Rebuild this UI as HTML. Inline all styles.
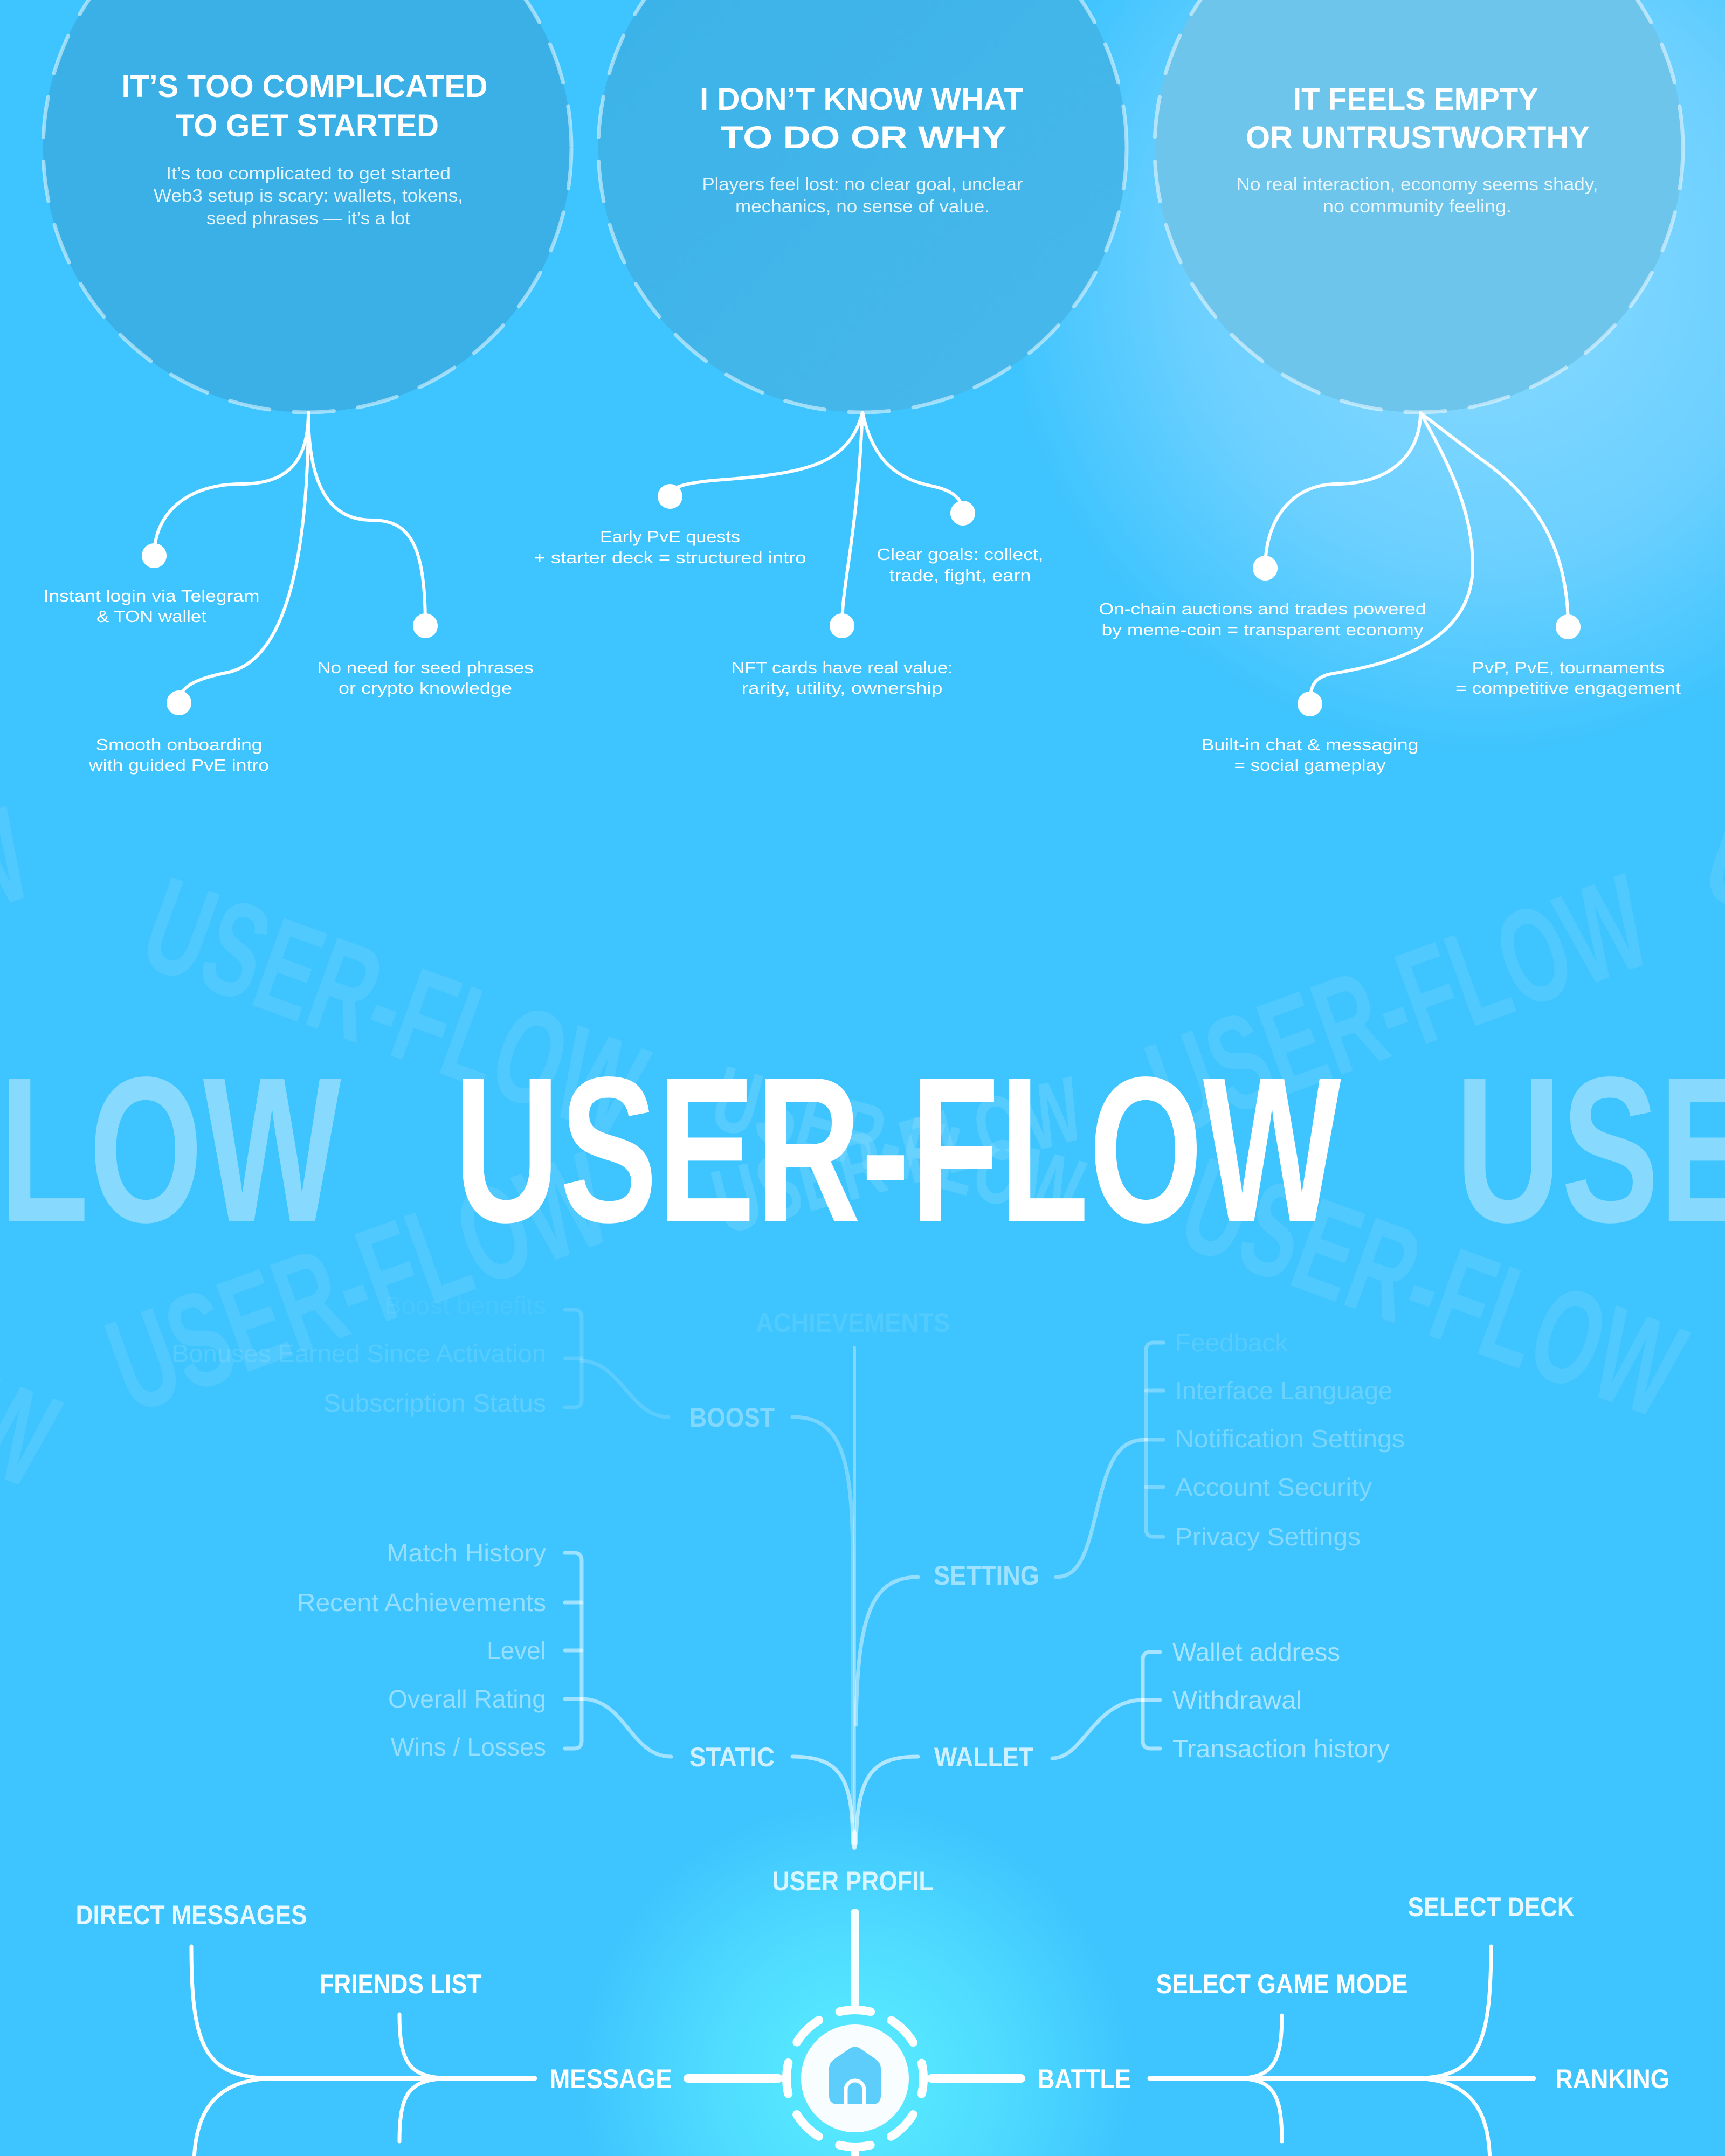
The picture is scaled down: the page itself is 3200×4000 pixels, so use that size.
<!DOCTYPE html>
<html><head><meta charset="utf-8"><style>
html,body{margin:0;padding:0;background:#3EC4FE;}
svg{display:block}
text{font-family:"Liberation Sans",sans-serif}
</style></head><body>
<svg width="3200" height="4000" viewBox="0 0 3200 4000" xmlns="http://www.w3.org/2000/svg">
<defs>
<radialGradient id="g3" cx="2750" cy="500" r="900" gradientUnits="userSpaceOnUse">
<stop offset="0" stop-color="#8ADAFF"/><stop offset="0.6" stop-color="#6CD0FF"/><stop offset="1" stop-color="#3EC4FE"/></radialGradient>
<radialGradient id="hub" cx="1586" cy="3856" r="520" gradientUnits="userSpaceOnUse">
<stop offset="0" stop-color="#5AEEFF"/><stop offset="0.5" stop-color="#4FDCFF"/><stop offset="1" stop-color="#3EC4FE"/></radialGradient>
<linearGradient id="c2" x1="0" y1="0" x2="1" y2="1"><stop offset="0" stop-color="#3AB2E8"/><stop offset="1" stop-color="#48B8EA"/></linearGradient>
</defs>
<rect width="3200" height="4000" fill="#3EC4FE"/>
<rect x="1900" y="0" width="1300" height="1500" fill="url(#g3)"/>
<rect x="1000" y="3330" width="1180" height="670" fill="url(#hub)"/>

<!-- circles -->
<g stroke="rgba(255,255,255,0.5)" stroke-width="7" stroke-dasharray="75 45" stroke-linecap="round">
<circle cx="570" cy="275" r="490" fill="#3AB0E6"/>
<circle cx="1600" cy="275" r="490" fill="url(#c2)"/>
<circle cx="2632" cy="275" r="490" fill="#6EC5EC"/>
</g>
<g fill="#fff" font-weight="bold" text-anchor="middle" font-size="58">
<text x="565" y="180" textLength="679" lengthAdjust="spacingAndGlyphs">IT’S TOO COMPLICATED</text>
<text x="570" y="253" textLength="488" lengthAdjust="spacingAndGlyphs">TO GET STARTED</text>
<text x="1598" y="204" textLength="600" lengthAdjust="spacingAndGlyphs">I DON’T KNOW WHAT</text>
<text x="1602" y="275" textLength="531" lengthAdjust="spacingAndGlyphs">TO DO OR WHY</text>
<text x="2626" y="204" textLength="455" lengthAdjust="spacingAndGlyphs">IT FEELS EMPTY</text>
<text x="2630" y="275" textLength="638" lengthAdjust="spacingAndGlyphs">OR UNTRUSTWORTHY</text>
</g>
<g fill="rgba(255,255,255,0.85)" text-anchor="middle" font-size="33">
<text x="572" y="333" textLength="528" lengthAdjust="spacingAndGlyphs">It’s too complicated to get started</text>
<text x="572" y="374" textLength="574" lengthAdjust="spacingAndGlyphs">Web3 setup is scary: wallets, tokens,</text>
<text x="572" y="416" textLength="378" lengthAdjust="spacingAndGlyphs">seed phrases — it’s a lot</text>
<text x="1600" y="353" textLength="595" lengthAdjust="spacingAndGlyphs">Players feel lost: no clear goal, unclear</text>
<text x="1600" y="394" textLength="472" lengthAdjust="spacingAndGlyphs">mechanics, no sense of value.</text>
<text x="2629" y="353" textLength="671" lengthAdjust="spacingAndGlyphs">No real interaction, economy seems shady,</text>
<text x="2629" y="394" textLength="350" lengthAdjust="spacingAndGlyphs">no community feeling.</text>
</g>

<!-- branch connectors -->
<g fill="none" stroke="#fff" stroke-width="6" stroke-linecap="round">
<path d="M572,765 C572,860 530,898 447,898 C350,898 286,950 286,1031"/>
<path d="M572,765 C572,1000 540,1225 420,1248 C360,1260 332,1275 332,1304"/>
<path d="M572,765 C572,900 610,965 690,965 C760,965 789,1010 789,1161"/>
<path d="M1600,765 C1575,860 1500,878 1340,890 C1262,896 1243,905 1243,921"/>
<path d="M1600,765 C1620,860 1670,890 1730,902 C1775,912 1786,930 1786,952"/>
<path d="M1600,765 C1590,1000 1562,1080 1562,1161"/>
<path d="M2635,766 C2635,850 2570,898 2480,898 C2400,898 2347,960 2347,1054"/>
<path d="M2635,766 L2745,850 C2860,930 2909,1030 2909,1163"/>
<path d="M2635,766 C2700,880 2732,960 2732,1050 C2732,1200 2560,1235 2470,1250 C2440,1256 2430,1270 2430,1306"/>
</g>
<g fill="#fff">
<circle cx="286" cy="1031" r="23"/><circle cx="332" cy="1304" r="23"/><circle cx="789" cy="1161" r="23"/>
<circle cx="1243" cy="921" r="23"/><circle cx="1786" cy="952" r="23"/><circle cx="1562" cy="1161" r="23"/>
<circle cx="2347" cy="1054" r="23"/><circle cx="2909" cy="1163" r="23"/><circle cx="2430" cy="1306" r="23"/>
</g>
<g fill="#fff" text-anchor="middle" font-size="31">
<text x="281" y="1116" textLength="401" lengthAdjust="spacingAndGlyphs">Instant login via Telegram</text>
<text x="281" y="1154" textLength="204" lengthAdjust="spacingAndGlyphs">&amp; TON wallet</text>
<text x="332" y="1392" textLength="309" lengthAdjust="spacingAndGlyphs">Smooth onboarding</text>
<text x="332" y="1430" textLength="334" lengthAdjust="spacingAndGlyphs">with guided PvE intro</text>
<text x="789" y="1249" textLength="401" lengthAdjust="spacingAndGlyphs">No need for seed phrases</text>
<text x="789" y="1287" textLength="322" lengthAdjust="spacingAndGlyphs">or crypto knowledge</text>
<text x="1243" y="1006" textLength="260" lengthAdjust="spacingAndGlyphs">Early PvE quests</text>
<text x="1243" y="1045" textLength="505" lengthAdjust="spacingAndGlyphs">+ starter deck = structured intro</text>
<text x="1781" y="1039" textLength="309" lengthAdjust="spacingAndGlyphs">Clear goals: collect,</text>
<text x="1781" y="1078" textLength="263" lengthAdjust="spacingAndGlyphs">trade, fight, earn</text>
<text x="1562" y="1249" textLength="411" lengthAdjust="spacingAndGlyphs">NFT cards have real value:</text>
<text x="1562" y="1287" textLength="373" lengthAdjust="spacingAndGlyphs">rarity, utility, ownership</text>
<text x="2342" y="1140" textLength="607" lengthAdjust="spacingAndGlyphs">On-chain auctions and trades powered</text>
<text x="2342" y="1179" textLength="597" lengthAdjust="spacingAndGlyphs">by meme-coin = transparent economy</text>
<text x="2909" y="1249" textLength="357" lengthAdjust="spacingAndGlyphs">PvP, PvE, tournaments</text>
<text x="2909" y="1287" textLength="418" lengthAdjust="spacingAndGlyphs">= competitive engagement</text>
<text x="2430" y="1392" textLength="403" lengthAdjust="spacingAndGlyphs">Built-in chat &amp; messaging</text>
<text x="2430" y="1430" textLength="281" lengthAdjust="spacingAndGlyphs">= social gameplay</text>
</g>

<!-- watermark rotated -->
<g fill="rgba(255,255,255,0.09)" font-weight="bold" text-anchor="middle" font-size="250">
<text transform="translate(702,1950) rotate(20)" textLength="960" lengthAdjust="spacingAndGlyphs">USER-FLOW</text>
<text transform="translate(2623,1945) rotate(-20)" textLength="960" lengthAdjust="spacingAndGlyphs">USER-FLOW</text>
<text transform="translate(694,2460) rotate(-20)" textLength="960" lengthAdjust="spacingAndGlyphs">USER-FLOW</text>
<text transform="translate(2628,2470) rotate(20)" textLength="960" lengthAdjust="spacingAndGlyphs">USER-FLOW</text>
<text transform="translate(-380,1820) rotate(-20)" textLength="960" lengthAdjust="spacingAndGlyphs">USER-FLOW</text>
<text transform="translate(-390,2600) rotate(20)" textLength="960" lengthAdjust="spacingAndGlyphs">USER-FLOW</text>
<text transform="translate(3600,1820) rotate(20)" textLength="960" lengthAdjust="spacingAndGlyphs">USER-FLOW</text>
</g>
<g fill="rgba(255,255,255,0.12)" font-weight="bold" text-anchor="middle" font-size="170">
<text transform="translate(1650,2180) rotate(15)" textLength="700" lengthAdjust="spacingAndGlyphs">USER-FLOW</text>
<text transform="translate(1680,2200) rotate(-15)" textLength="700" lengthAdjust="spacingAndGlyphs">USER-FLOW</text>
</g>
<!-- main title -->
<g font-weight="bold" font-size="385">
<text x="-1013" y="2266" fill="rgba(255,255,255,0.38)" textLength="1646" lengthAdjust="spacingAndGlyphs">USER-FLOW</text>
<text x="2700" y="2266" fill="rgba(255,255,255,0.38)" textLength="1646" lengthAdjust="spacingAndGlyphs">USER-FLOW</text>
<text x="842" y="2266" fill="#fff" textLength="1646" lengthAdjust="spacingAndGlyphs">USER-FLOW</text>
</g>

<!-- tree lines -->
<g fill="none" stroke-linecap="round" stroke-width="7">
<path d="M1585,2500 L1585,3428" stroke="rgba(255,255,255,0.35)" stroke-width="6"/>
<path d="M1470,2629 C1560,2629 1582,2700 1582,2900 L1582,3380" stroke="rgba(255,255,255,0.3)"/>
<path d="M1470,3259 C1560,3259 1582,3300 1582,3420" stroke="rgba(255,255,255,0.6)"/>
<path d="M1703,2926 C1620,2926 1590,2990 1588,3200" stroke="rgba(255,255,255,0.45)"/>
<path d="M1703,3259 C1620,3259 1590,3290 1588,3420" stroke="rgba(255,255,255,0.6)"/>
<g stroke="rgba(255,255,255,0.15)">
<path d="M1048,2430 L1065,2430 Q1079,2430 1079,2444 L1079,2597 Q1079,2611 1065,2611 L1048,2611"/>
<path d="M1048,2520 L1079,2520"/>
<path d="M1079,2525 C1150,2525 1170,2629 1240,2629"/>
</g>
<g stroke="rgba(255,255,255,0.5)">
<path d="M1048,2881 L1065,2881 Q1079,2881 1079,2895 L1079,3230 Q1079,3244 1065,3244 L1048,3244"/>
<path d="M1048,2973 L1079,2973 M1048,3062 L1079,3062 M1048,3152 L1079,3152"/>
<path d="M1079,3152 C1160,3152 1170,3259 1245,3259"/>
</g>
<g stroke="rgba(255,255,255,0.3)">
<path d="M2158,2491 L2140,2491 Q2126,2491 2126,2505 L2126,2837 Q2126,2851 2140,2851 L2158,2851"/>
<path d="M2126,2580 L2158,2580 M2126,2671 L2158,2671 M2126,2759 L2158,2759"/>
</g>
<path d="M1959,2926 C2010,2926 2020,2860 2040,2780 C2060,2700 2080,2671 2126,2671" stroke="rgba(255,255,255,0.4)"/>
<g stroke="rgba(255,255,255,0.55)">
<path d="M2152,3065 L2134,3065 Q2120,3065 2120,3079 L2120,3230 Q2120,3244 2134,3244 L2152,3244"/>
<path d="M2120,3154 L2152,3154"/>
<path d="M1952,3262 C2010,3262 2030,3154 2120,3154"/>
</g>
</g>

<g font-weight="bold" font-size="50" text-anchor="middle">
<text x="1582" y="2471" fill="rgba(255,255,255,0.1)" textLength="360" lengthAdjust="spacingAndGlyphs">ACHIEVEMENTS</text>
<text x="1358" y="2647" fill="rgba(255,255,255,0.35)" textLength="158" lengthAdjust="spacingAndGlyphs">BOOST</text>
<text x="1830" y="2940" fill="rgba(255,255,255,0.5)" textLength="196" lengthAdjust="spacingAndGlyphs">SETTING</text>
<text x="1358" y="3277" fill="rgba(255,255,255,0.75)" textLength="158" lengthAdjust="spacingAndGlyphs">STATIC</text>
<text x="1825" y="3277" fill="rgba(255,255,255,0.75)" textLength="184" lengthAdjust="spacingAndGlyphs">WALLET</text>
<text x="1582" y="3507" fill="rgba(255,255,255,0.8)" textLength="299" lengthAdjust="spacingAndGlyphs">USER PROFIL</text>
</g>
<g font-size="46" text-anchor="end">
<text x="1013" y="2438" fill="rgba(255,255,255,0.06)" textLength="300" lengthAdjust="spacingAndGlyphs">Boost benefits</text>
<text x="1013" y="2527" fill="rgba(255,255,255,0.12)" textLength="694" lengthAdjust="spacingAndGlyphs">Bonuses Earned Since Activation</text>
<text x="1013" y="2619" fill="rgba(255,255,255,0.18)" textLength="413" lengthAdjust="spacingAndGlyphs">Subscription Status</text>
<g fill="rgba(255,255,255,0.45)">
<text x="1013" y="2897" textLength="296" lengthAdjust="spacingAndGlyphs">Match History</text>
<text x="1013" y="2989" textLength="462" lengthAdjust="spacingAndGlyphs">Recent Achievements</text>
<text x="1013" y="3078" textLength="110" lengthAdjust="spacingAndGlyphs">Level</text>
<text x="1013" y="3168" textLength="293" lengthAdjust="spacingAndGlyphs">Overall Rating</text>
<text x="1013" y="3257" textLength="288" lengthAdjust="spacingAndGlyphs">Wins / Losses</text>
</g>
</g>
<g font-size="46">
<text x="2180" y="2507" fill="rgba(255,255,255,0.12)" textLength="209" lengthAdjust="spacingAndGlyphs">Feedback</text>
<text x="2180" y="2596" fill="rgba(255,255,255,0.22)" textLength="403" lengthAdjust="spacingAndGlyphs">Interface Language</text>
<text x="2180" y="2685" fill="rgba(255,255,255,0.3)" textLength="426" lengthAdjust="spacingAndGlyphs">Notification Settings</text>
<text x="2180" y="2775" fill="rgba(255,255,255,0.33)" textLength="365" lengthAdjust="spacingAndGlyphs">Account Security</text>
<text x="2180" y="2867" fill="rgba(255,255,255,0.38)" textLength="344" lengthAdjust="spacingAndGlyphs">Privacy Settings</text>
<g fill="rgba(255,255,255,0.55)">
<text x="2175" y="3081" textLength="311" lengthAdjust="spacingAndGlyphs">Wallet address</text>
<text x="2175" y="3170" textLength="240" lengthAdjust="spacingAndGlyphs">Withdrawal</text>
<text x="2175" y="3260" textLength="403" lengthAdjust="spacingAndGlyphs">Transaction history</text>
</g>
</g>

<!-- bottom hub -->
<g fill="none" stroke="#fff" stroke-linecap="round">
<path d="M1585,3400 L1585,3428" stroke="rgba(255,255,255,0.7)" stroke-width="8"/>
<path d="M1586,3549 L1586,3722" stroke-width="16" stroke="rgba(255,255,255,0.95)"/>
<circle cx="1586" cy="3856" r="127" stroke-width="16" stroke-dasharray="58 41.76" stroke-dashoffset="29"/>
<path d="M1276,3856 L1444,3856" stroke-width="16"/>
<path d="M1728,3856 L1894,3856" stroke-width="16"/>
<path d="M1586,3990 L1586,4010" stroke-width="16"/>
<g stroke-width="7">
<path d="M498,3856 L992,3856" stroke-width="9"/>
<path d="M355,3611 C355,3800 380,3856 510,3856"/>
<path d="M510,3856 C390,3856 362,3930 360,4010"/>
<path d="M741,3737 C741,3830 760,3856 840,3856"/>
<path d="M840,3856 C760,3856 741,3880 741,3973"/>
<path d="M2133,3856 L2845,3856" stroke-width="9"/>
<path d="M2378,3739 C2378,3830 2360,3856 2290,3856"/>
<path d="M2290,3856 C2360,3856 2378,3880 2378,3973"/>
<path d="M2766,3611 C2766,3800 2740,3856 2620,3856"/>
<path d="M2620,3856 C2740,3856 2762,3930 2764,4010"/>
</g>
</g>
<circle cx="1586" cy="3856" r="100" fill="#F8FDFF"/>
<path d="M1548,3820 L1577,3800 Q1586,3795 1595,3800 L1624,3820 Q1634,3827 1634,3838 L1634,3888 Q1634,3904 1618,3904 L1554,3904 Q1538,3904 1538,3888 L1538,3838 Q1538,3827 1548,3820 Z" fill="#5DCEFB"/>
<path d="M1569,3904 L1569,3877 A17,17 0 0 1 1603,3877 L1603,3904" fill="none" stroke="#fff" stroke-width="7"/>

<g fill="#fff" font-weight="bold" font-size="50" text-anchor="middle">
<text x="355" y="3570" fill="rgba(255,255,255,0.88)" textLength="429" lengthAdjust="spacingAndGlyphs">DIRECT MESSAGES</text>
<text x="743" y="3698" textLength="301" lengthAdjust="spacingAndGlyphs">FRIENDS LIST</text>
<text x="1133" y="3874" textLength="227" lengthAdjust="spacingAndGlyphs">MESSAGE</text>
<text x="2011" y="3874" textLength="174" lengthAdjust="spacingAndGlyphs">BATTLE</text>
<text x="2991" y="3874" textLength="212" lengthAdjust="spacingAndGlyphs">RANKING</text>
<text x="2766" y="3555" fill="rgba(255,255,255,0.88)" textLength="309" lengthAdjust="spacingAndGlyphs">SELECT DECK</text>
<text x="2378" y="3698" textLength="467" lengthAdjust="spacingAndGlyphs">SELECT GAME MODE</text>
</g>
</svg>
</body></html>
